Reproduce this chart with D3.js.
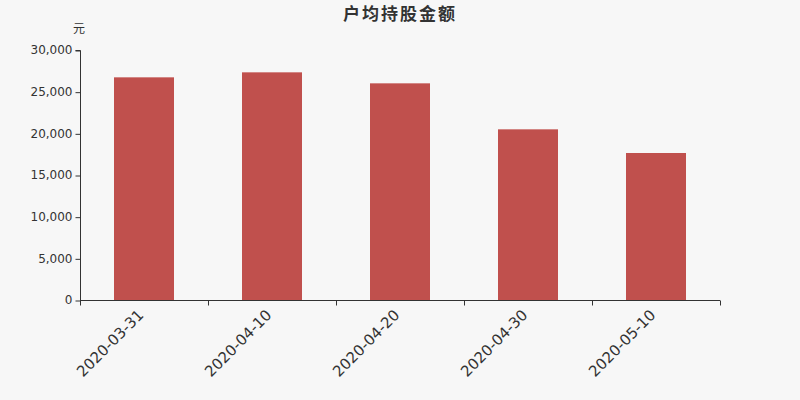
<!DOCTYPE html>
<html><head><meta charset="utf-8">
<script src="https://cdn.jsdelivr.net/npm/d3@7/dist/d3.min.js"></script>
<style>html,body{margin:0;padding:0;background:#f7f7f7;}svg{display:block;}</style>
</head><body>
<svg id="chart" width="800" height="400"></svg>
<script>
const categories = ["2020-03-31","2020-04-10","2020-04-20","2020-04-30","2020-05-10"];
const values = [26720, 27320, 26000, 20480, 17640];
const yTicks = [0,5000,10000,15000,20000,25000,30000];
const title = "户均持股金额";
const unit = "元";

const svg = d3.select("#chart");
const W = 800, H = 400;
const m = {left:80, right:80, top:50, bottom:100};
svg.append("rect").attr("width",W).attr("height",H).attr("fill","#f7f7f7");

const x = d3.scaleBand().domain(categories).range([m.left, W-m.right]).paddingInner(0).paddingOuter(0);
const y = d3.scaleLinear().domain([0,30000]).range([H-m.bottom, m.top]);
const fmt = d3.format(",");
const font = "DejaVu Sans, Noto Sans CJK SC, sans-serif";

// bars
const bw = 60;
svg.append("g").selectAll("rect").data(values).join("rect")
  .attr("x",(d,i)=>x(categories[i]) + x.bandwidth()/2 - bw/2)
  .attr("width",bw)
  .attr("y",d=>y(d))
  .attr("height",d=>y(0)-y(d))
  .attr("fill","#c0504d");

// y axis
const yAxis = d3.axisLeft(y).tickValues(yTicks).tickFormat(fmt).tickSize(5).tickPadding(3);
const gy = svg.append("g").attr("transform",`translate(${m.left+0.5},0)`).call(yAxis);
gy.select(".domain").attr("stroke","#333").attr("d",`M-5,${y(30000)+0.5}H0V${y(0)+0.5}`);
gy.selectAll(".tick line").attr("stroke","#333").attr("transform","translate(0,0.5)");
gy.selectAll(".tick text").attr("font-family",font).attr("font-size",12).attr("fill","#333");

// x axis
const gx = svg.append("g").attr("transform",`translate(0,${y(0)+0.5})`);
gx.append("path").attr("d",`M${m.left},0H${W-m.right}`).attr("stroke","#333").attr("fill","none");
const bounds = categories.map(c=>x(c)).concat([W-m.right]);
gx.selectAll("line.tk").data(bounds).join("line").attr("class","tk")
  .attr("x1",d=>Math.round(d)+0.5).attr("x2",d=>Math.round(d)+0.5).attr("y1",0).attr("y2",5).attr("stroke","#333");
gx.selectAll("text").data(categories).join("text")
  .attr("transform",d=>`translate(${x(d)+x.bandwidth()/2-7},8) rotate(-45)`)
  .attr("text-anchor","end").attr("dy","0.71em")
  .attr("font-family",font).attr("font-size",15).attr("fill","#333")
  .text(d=>d);

// title
svg.append("text").attr("x",400).attr("y",20).attr("text-anchor","middle")
  .attr("font-family","Noto Sans CJK SC, sans-serif").attr("font-size",17).attr("font-weight","bold")
  .attr("letter-spacing",2).attr("fill","#333").text(title);
svg.append("text").attr("x",79).attr("y",33).attr("text-anchor","middle")
  .attr("font-family","Noto Sans CJK SC, sans-serif").attr("font-size",12).attr("fill","#333").text(unit);
</script>
</body></html>
